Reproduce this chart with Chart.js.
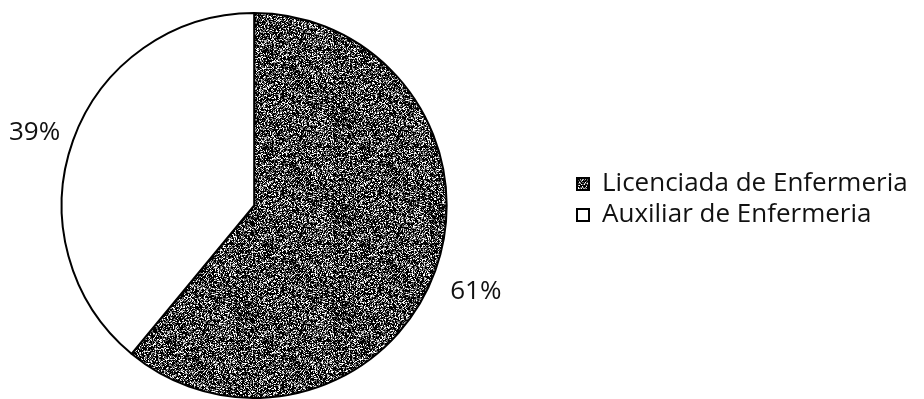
<!DOCTYPE html>
<html>
<head>
<meta charset="utf-8">
<script src="https://cdn.jsdelivr.net/npm/chart.js@4"></script>
<style>
  html, body { margin:0; padding:0; background:#fff; }
  #wrap { width:924px; height:399px; }
</style>
</head>
<body>
<div id="wrap"><canvas id="pie"></canvas></div>
<script>
// data
const labels = ['Licenciada de Enfermeria', 'Auxiliar de Enfermeria'];
const values = [61, 39];
const pctLabels = ['61%', '39%'];

// speckled grey texture (deterministic hash, no data involved)
function hash(x, y) {
  let h = Math.imul(x, 0x27d4eb2d) ^ Math.imul(y, 0x165667b1);
  h = Math.imul(h ^ (h >>> 15), 0x85ebca6b);
  h = Math.imul(h ^ (h >>> 13), 0xc2b2ae35);
  return ((h ^ (h >>> 16)) >>> 0) / 4294967296;
}
function speckle() {
  const N = 97;
  const c = document.createElement('canvas');
  c.width = N; c.height = N;
  const g = c.getContext('2d');
  const img = g.createImageData(N, N);
  for (let y = 0; y < N; y++) for (let x = 0; x < N; x++) {
    const r = hash(x, y);
    const v = r < 0.52 ? 0 : r < 0.72 ? 95 : r < 0.85 ? 175 : 255;
    const i = (y * N + x) * 4;
    img.data[i] = img.data[i+1] = img.data[i+2] = v; img.data[i+3] = 255;
  }
  g.putImageData(img, 0, 0);
  return g.createPattern(c, 'repeat');
}

const FONT = "'Open Sans', sans-serif";
const LEGEND_SIZE = 26, BOX = 12, LPAD = 5;

const pctPlugin = {
  id: 'pct',
  afterDatasetsDraw(chart) {
    const ctx = chart.ctx;
    const meta = chart.getDatasetMeta(0);
    ctx.save();
    ctx.font = '26px ' + FONT;
    ctx.fillStyle = '#111';
    ctx.textAlign = 'center';
    ctx.textBaseline = 'middle';
    meta.data.forEach((arc, i) => {
      const a = (arc.startAngle + arc.endAngle) / 2;
      const r = arc.outerRadius + 42;
      ctx.fillText(pctLabels[i], arc.x + Math.cos(a) * r + 1, arc.y + Math.sin(a) * r + 7);
    });
    ctx.restore();
  }
};

// put the legend where the reference has it; the pie keeps its place
const legendShift = {
  id: 'legendShift',
  afterLayout(chart) {
    const lg = chart.legend;
    if (!lg) return;
    const left = 602 - LPAD - BOX - LEGEND_SIZE / 2;
    const w = lg.right - lg.left;
    lg.left = left; lg.right = left + w;
    lg.top -= 6; lg.bottom -= 6;
  }
};

new Chart(document.getElementById('pie'), {
  type: 'pie',
  data: {
    labels,
    datasets: [{ data: values, backgroundColor: [speckle(), '#ffffff'], borderColor: '#000', borderWidth: 2 }]
  },
  options: {
    responsive: true, maintainAspectRatio: false, animation: false,
    layout: { padding: { top: 12, bottom: 0, right: 70, left: 0 } },
    plugins: {
      tooltip: { enabled: false },
      legend: {
        position: 'right',
        labels: { color: '#111', font: { family: FONT, size: LEGEND_SIZE }, boxWidth: BOX, boxHeight: BOX, padding: LPAD }
      }
    }
  },
  plugins: [pctPlugin, legendShift]
});
</script>
</body>
</html>
